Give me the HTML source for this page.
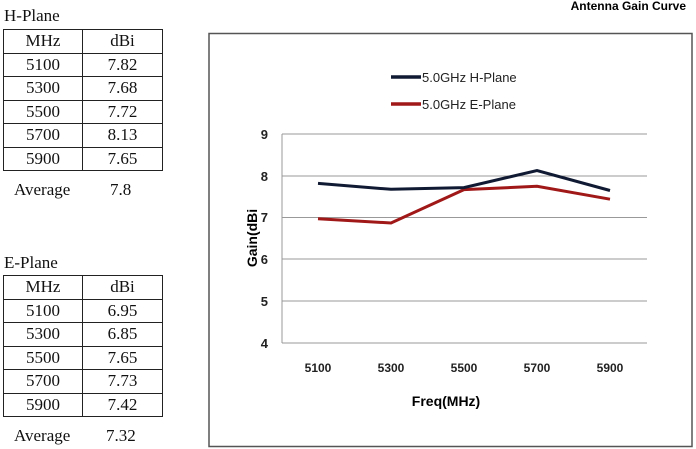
<!DOCTYPE html><html><head><style>
body{margin:0;width:696px;height:449px;background:#fff;position:relative;overflow:hidden;font-family:"Liberation Serif",serif;}
.t{position:absolute;left:3px;border-collapse:collapse;font-size:17px;color:#111}
.t td{border:1.5px solid #222;height:22.5px;padding:0;text-align:center;line-height:20px}
.t td:first-child{width:78px}.t td:last-child{width:79px}
.lab{position:absolute;font-size:17px;color:#111}
</style></head><body>
<div class="lab" style="left:4px;top:6px">H-Plane</div>
<table class="t" style="top:29px"><tr><td>MHz</td><td>dBi</td></tr><tr><td>5100</td><td>7.82</td></tr><tr><td>5300</td><td>7.68</td></tr><tr><td>5500</td><td>7.72</td></tr><tr><td>5700</td><td>8.13</td></tr><tr><td>5900</td><td>7.65</td></tr></table>
<div class="lab" style="left:14px;top:180px">Average</div><div class="lab" style="left:110px;top:180px">7.8</div>
<div class="lab" style="left:4px;top:253px">E-Plane</div>
<table class="t" style="top:275px"><tr><td>MHz</td><td>dBi</td></tr><tr><td>5100</td><td>6.95</td></tr><tr><td>5300</td><td>6.85</td></tr><tr><td>5500</td><td>7.65</td></tr><tr><td>5700</td><td>7.73</td></tr><tr><td>5900</td><td>7.42</td></tr></table>
<div class="lab" style="left:14px;top:426px">Average</div><div class="lab" style="left:106px;top:426px">7.32</div>
<svg width="696" height="449" style="position:absolute;left:0;top:0" font-family="Liberation Sans, sans-serif">
<text x="686" y="10" text-anchor="end" font-size="12" font-weight="bold">Antenna Gain Curve</text>
<rect x="209" y="33.5" width="483" height="413" fill="none" stroke="#555" stroke-width="1.5"/>
<g stroke="#999" stroke-width="1"><line x1="282" y1="134" x2="647" y2="134"/><line x1="282" y1="176" x2="647" y2="176"/><line x1="282" y1="217.5" x2="647" y2="217.5"/><line x1="282" y1="259" x2="647" y2="259"/><line x1="282" y1="301" x2="647" y2="301"/><line x1="282" y1="343" x2="647" y2="343"/><line x1="282" y1="134" x2="282" y2="343"/></g>
<g font-size="13" font-weight="bold" fill="#222" text-anchor="end"><text x="268" y="139">9</text><text x="268" y="181">8</text><text x="268" y="222">7</text><text x="268" y="264">6</text><text x="268" y="306">5</text><text x="268" y="348">4</text></g>
<g font-size="12" font-weight="bold" fill="#222" text-anchor="middle"><text x="318" y="372">5100</text><text x="391" y="372">5300</text><text x="464" y="372">5500</text><text x="537" y="372">5700</text><text x="610" y="372">5900</text></g>
<text x="446" y="406" font-size="14" font-weight="bold" text-anchor="middle">Freq(MHz)</text>
<text transform="translate(257,238) rotate(-90)" font-size="14" font-weight="bold" text-anchor="middle">Gain(dBi</text>
<line x1="391" y1="77" x2="421" y2="77" stroke="#111a33" stroke-width="3.5"/>
<text x="422" y="82" font-size="13" fill="#222">5.0GHz H-Plane</text>
<line x1="391" y1="104" x2="421" y2="104" stroke="#a01818" stroke-width="3.5"/>
<text x="422" y="109" font-size="13" fill="#222">5.0GHz E-Plane</text>
<polyline fill="none" stroke="#a01818" stroke-width="3" points="318,218.8 391,223 464,189.6 537,186.3 610,199.2"/>
<polyline fill="none" stroke="#111a33" stroke-width="3" points="318,183.4 391,189.3 464,187.6 537,170.5 610,190.5"/>
</svg>
</body></html>
